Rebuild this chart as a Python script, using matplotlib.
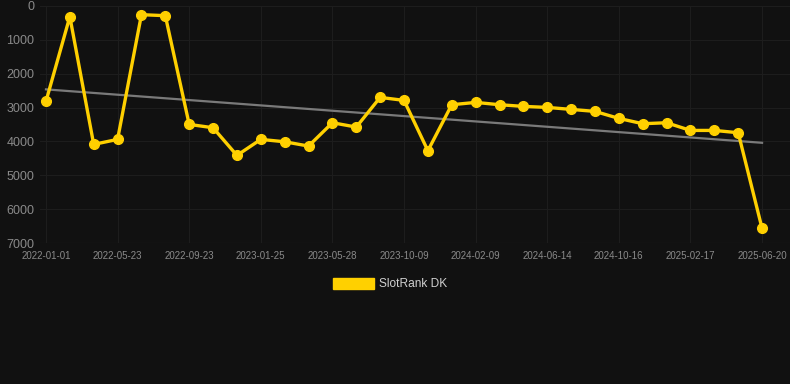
import numpy as np
import matplotlib
matplotlib.use("Agg")
import matplotlib.pyplot as plt
from matplotlib.patches import Patch

# rank values per period (y axis is inverted: lower rank is better)
rank_values = [2817, 315, 4088, 3940, 256, 286, 3497, 3596, 4413, 3940,
               4010, 4137, 3448, 3576, 2699, 2788, 4275, 2916, 2847, 2916,
               2965, 2995, 3054, 3113, 3320, 3477, 3448, 3675, 3675, 3743,
               6570]
tick_labels = ['2022-01-01', '2022-05-23', '2022-09-23', '2023-01-25',
               '2023-05-28', '2023-10-09', '2024-02-09', '2024-06-14',
               '2024-10-16', '2025-02-17', '2025-06-20']
series_name = 'SlotRank DK'

BG = '#111111'
GRID = '#1d1d1d'
TXT = '#8a8a8a'
GOLD = '#FFD000'

plt.rcParams['font.family'] = ['Liberation Sans', 'DejaVu Sans']

fig = plt.figure(figsize=(7.9, 3.84), dpi=100, facecolor=BG)
ax = fig.add_axes([40 / 790, 1 - 243 / 384, 750 / 790, 237 / 384])
ax.set_facecolor(BG)

x = np.arange(len(rank_values))
y = np.array(rank_values, dtype=float)

# linear trend
k, b = np.polyfit(x, y, 1)
ax.plot(x, k * x + b, color='#7a7a7a', linewidth=1.6, zorder=2)

ax.plot(x, y, color=GOLD, linewidth=2.4, marker='o', markersize=7,
        markerfacecolor=GOLD, markeredgecolor=GOLD, zorder=3)

ax.set_xlim(-0.25, 31.17)
ax.set_ylim(7000, 0)
ax.set_yticks(range(0, 7001, 1000))
ax.set_xticks(x[::3])
ax.set_xticklabels(tick_labels)

ax.grid(True, color=GRID, linewidth=0.8)
ax.axhline(7000, color='#2a2a2a', linewidth=0.8, zorder=1)
ax.set_axisbelow(True)
for s in ax.spines.values():
    s.set_visible(False)
ax.tick_params(axis='y', length=0, pad=4, labelsize=9, labelcolor=TXT)
ax.tick_params(axis='x', length=0, pad=6, labelsize=7, labelcolor=TXT)

handle = Patch(facecolor=GOLD, edgecolor=GOLD, label=series_name)
fig.legend(handles=[handle], loc='center', bbox_to_anchor=(390 / 790, 1 - 284 / 384),
           frameon=False, fontsize=8.6, labelcolor='#d0d0d0',
           handlelength=3.4, handleheight=1.05, handletextpad=0.45)

fig.savefig('out.png', dpi=100, facecolor=BG)
